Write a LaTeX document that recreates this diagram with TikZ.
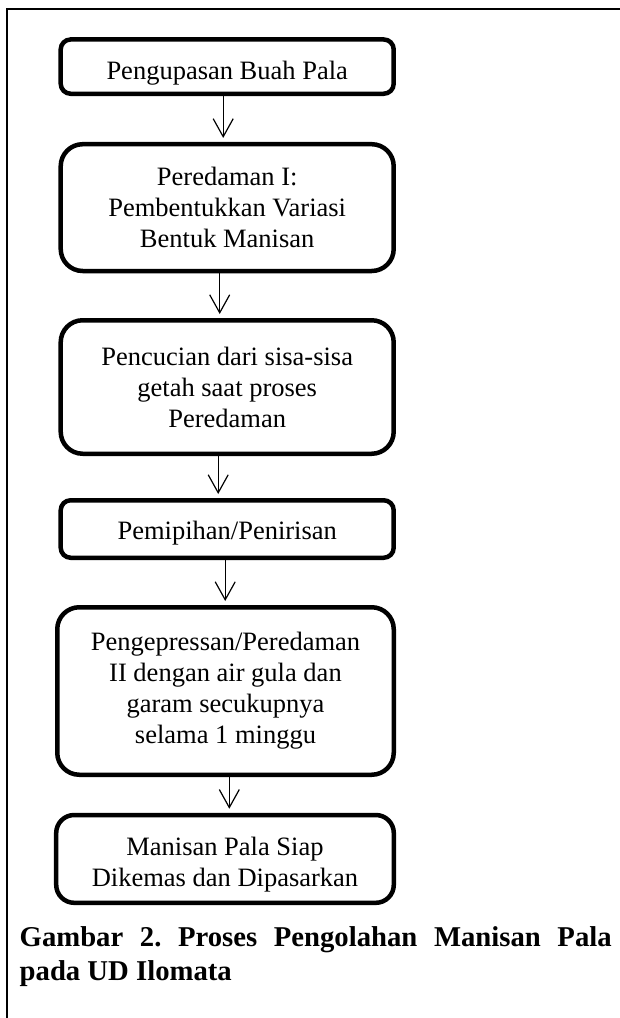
\documentclass[tikz,border=0pt]{standalone}
\usepackage{fontspec}
\setmainfont{Liberation Serif}
\usetikzlibrary{arrows.meta}

\begin{document}
\frenchspacing
\begin{tikzpicture}[x=1pt,y=-1pt,
  box/.style={draw,line width=4.5pt,minimum width=333pt,inner sep=0pt,
    align=center,font=\fontsize{26.5}{31}\selectfont},
  flatbox/.style={box,rounded corners=10pt},
  tallbox/.style={box,rounded corners=22pt},
  flow/.style={line width=1.2pt,-{Straight Barb[length=18pt,width=20pt]},shorten >=4pt},
  caption/.style={text width=592pt,inner sep=0pt,align=justify,
    font=\bfseries\fontsize{28.7}{34.6}\selectfont}]
  \useasboundingbox (0,0) rectangle (620,1018);

  % frame
  \draw[line width=2pt] (620,9) -- (7,9) -- (7,1018);

  % process steps
  \node[flatbox,minimum height=54.3pt,text height=24.8pt,text depth=0pt] (peel) at (227.2,66.6)
    {Pengupasan Buah Pala};
  \node[tallbox,minimum height=126.8pt] (soak) at (227.2,207.6)
    {Peredaman I:\\Pembentukkan Variasi\\Bentuk Manisan};
  \node[tallbox,minimum height=133.5pt] (wash) at (227.2,387)
    {Pencucian dari sisa-sisa\\getah saat proses\\Peredaman};
  \node[flatbox,minimum height=57.5pt,text height=20pt,text depth=0pt] (drain) at (227.2,529)
    {Pemipihan/Penirisan};
  \node[tallbox,minimum width=336.5pt,minimum height=167.5pt] (press) at (225.5,691)
    {Pengepressan/Peredaman\\II dengan air gula dan\\garam secukupnya\\selama 1 minggu};
  \node[box,rounded corners=18pt,minimum width=337.6pt,minimum height=87.8pt,
    text height=55.6pt,text depth=0pt] (ready) at (225,858.9)
    {Manisan Pala Siap\\Dikemas dan Dipasarkan};

  \draw[flow] ([xshift=-4pt]peel.south) -- ([xshift=-4pt]peel.south |- soak.north);
  \draw[flow] ([xshift=-7.5pt]soak.south) -- ([xshift=-7.5pt]soak.south |- wash.north);
  \draw[flow] ([xshift=-9pt]wash.south) -- ([xshift=-9pt]wash.south |- drain.north);
  \draw[flow] ([xshift=-2pt]drain.south) -- ([xshift=-2pt]drain.south |- press.north);
  \draw[flow] ([xshift=3.8pt]press.south) -- ([xshift=3.8pt]press.south |- ready.north);

  % caption
  \node[caption,anchor=base west] (cap) at (19.5,946)
    {Gambar 2. Proses Pengolahan Manisan Pala pada UD Ilomata};
\end{tikzpicture}
\end{document}
